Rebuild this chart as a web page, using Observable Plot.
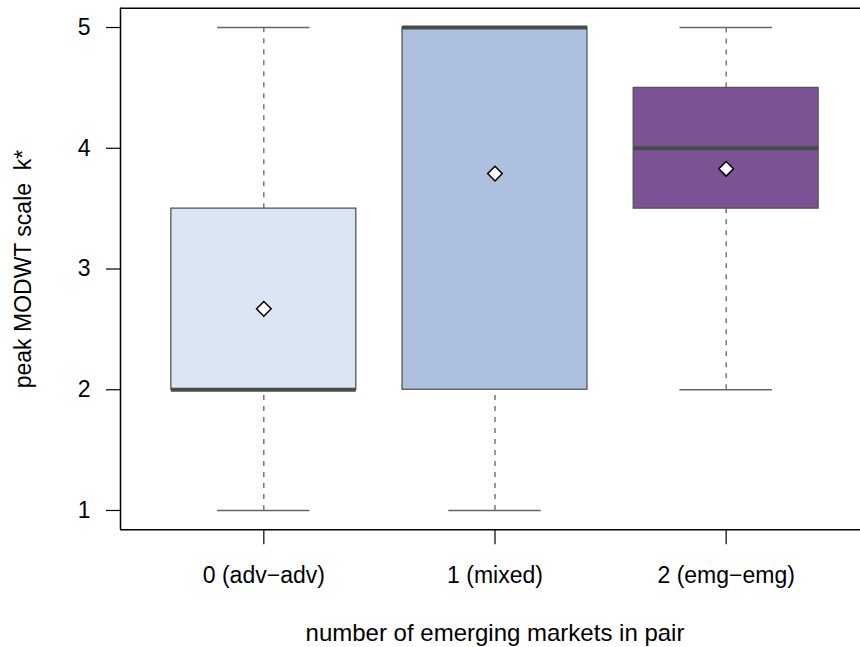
<!DOCTYPE html>
<html>
<head>
<meta charset="utf-8">
<script src="https://cdn.jsdelivr.net/npm/d3@7"></script>
<script src="https://cdn.jsdelivr.net/npm/@observablehq/plot@0.6"></script>
<style>
  html, body { margin: 0; padding: 0; background: #ffffff; }
  #chart { width: 860px; height: 647px; overflow: hidden; }
</style>
</head>
<body>
<div id="chart"></div>
<script>
// ---- data ----
const categories = ["0 (adv\u2212adv)", "1 (mixed)", "2 (emg\u2212emg)"];
const positions = [1, 2, 3];
const whiskerLow = [1, 1, 2];
const q1 = [2, 2, 3.5];
const medians = [2, 5, 4];
const q3 = [3.5, 5, 4.5];
const whiskerHigh = [5, 5, 5];
const means = [2.67, 3.79, 3.83];
const fills = ["#dce5f3", "#aec0e0", "#7b5294"];
const yTicks = [1, 2, 3, 4, 5];
const xDomain = [0.38, 3.62];
const yDomain = [0.84, 5.16];
const xTitle = "number of emerging markets in pair";
const yTitle = "peak MODWT scale \u00a0k*";

// ---- table built from the arrays ----
const boxes = categories.map((c, i) => ({
  cat: c, pos: positions[i], lo: whiskerLow[i], q1: q1[i], med: medians[i],
  q3: q3[i], hi: whiskerHigh[i], mean: means[i], fill: fills[i]
}));

const halfBox = 0.4;   // box half-width (style)
const halfCap = 0.2;   // whisker cap half-width (style)
const FS = 23;

const chart = Plot.plot({
  width: 860,
  height: 647,
  marginLeft: 120,
  marginRight: 0,
  marginTop: 7.7,
  marginBottom: 117.7,
  style: { fontFamily: "'Liberation Sans', Arial, Helvetica, sans-serif", fontSize: FS + "px", background: "#ffffff", color: "#000000" },
  x: { type: "linear", domain: xDomain, range: [120, 869] },
  y: { type: "linear", domain: yDomain },
  marks: [
    // whiskers (dashed)
    Plot.ruleX(boxes, { x: "pos", y1: "q3", y2: "hi", stroke: "#555555", strokeWidth: 1.2, strokeDasharray: "5,6" }),
    Plot.ruleX(boxes, { x: "pos", y1: "lo", y2: "q1", stroke: "#555555", strokeWidth: 1.2, strokeDasharray: "5,6" }),
    // whisker caps
    Plot.ruleY(boxes, { y: "hi", x1: d => d.pos - halfCap, x2: d => d.pos + halfCap, stroke: "#666666", strokeWidth: 1.3 }),
    Plot.ruleY(boxes, { y: "lo", x1: d => d.pos - halfCap, x2: d => d.pos + halfCap, stroke: "#666666", strokeWidth: 1.3 }),
    // boxes
    Plot.rect(boxes, { x1: d => d.pos - halfBox, x2: d => d.pos + halfBox, y1: "q1", y2: "q3", fill: "fill", stroke: "#555555", strokeWidth: 1.3 }),
    // medians
    Plot.ruleY(boxes, { y: "med", x1: d => d.pos - halfBox, x2: d => d.pos + halfBox, stroke: "#4a4a4a", strokeWidth: 4 }),
    // means
    Plot.dot(boxes, { x: "pos", y: "mean", symbol: "diamond2", r: 6.6, fill: "#ffffff", stroke: "#000000", strokeWidth: 1.5 }),
    // frame: bottom, top, left
    Plot.ruleY([yDomain[0], yDomain[1]], { stroke: "#000000", strokeWidth: 1.5 }),
    Plot.ruleX([xDomain[0]], { stroke: "#000000", strokeWidth: 1.5 }),
    // axes
    Plot.axisY(yTicks, { tickSize: 14, tickPadding: 16, tickFormat: d => String(d), label: null, fontSize: FS, stroke: "#000000", strokeWidth: 1.2 }),
    Plot.axisX(positions, { tickFormat: d => categories[d - 1], tickSize: 15, tickPadding: 22, label: null, fontSize: FS, stroke: "#000000", strokeWidth: 1.2 }),
    // axis titles
    Plot.text([xTitle], { x: () => (xDomain[0] + xDomain[1]) / 2, frameAnchor: "bottom", lineAnchor: "top", textAnchor: "middle", dy: 94, fontSize: 24, fill: "#000000" }),
    Plot.text([yTitle], { frameAnchor: "left", rotate: -90, dx: -97, textAnchor: "middle", lineAnchor: "middle", fontSize: FS, fill: "#000000" })
  ]
});

document.getElementById("chart").appendChild(chart);
</script>
</body>
</html>
